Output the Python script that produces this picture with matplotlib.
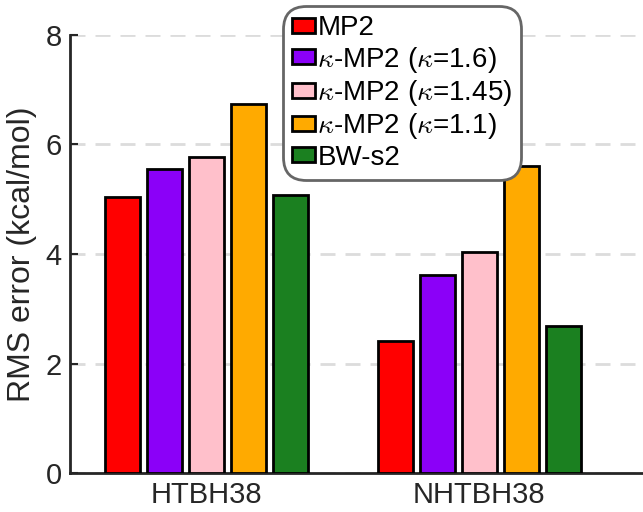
import matplotlib
matplotlib.use('Agg')
import matplotlib.pyplot as plt
import numpy as np

plt.rcParams['font.family'] = ['Liberation Sans', 'DejaVu Sans']
plt.rcParams['mathtext.fontset'] = 'cm'

groups = ['HTBH38', 'NHTBH38']
labels = ['MP2', r'$\kappa$-MP2 ($\kappa$=1.6)', r'$\kappa$-MP2 ($\kappa$=1.45)',
          r'$\kappa$-MP2 ($\kappa$=1.1)', 'BW-s2']
colors = ['#ff0000', '#8b00f8', '#ffc0cb', '#ffaa00', '#1b8020']
mp2 = [5.04, 2.41]
k16 = [5.55, 3.62]
k145 = [5.77, 4.04]
k11 = [6.74, 5.61]
bws2 = [5.07, 2.68]
series = [mp2, k16, k145, k11, bws2]

fig = plt.figure(figsize=(6.43, 5.12), dpi=100)
ax = fig.add_axes([0.109, 0.076, 0.891, 0.856])

x = np.arange(1, len(groups) + 1)
step = 0.154
width = 0.128
for i, (vals, lab, col) in enumerate(zip(series, labels, colors)):
    ax.bar(x + (i - 2) * step, vals, width, color=col, edgecolor='black',
           linewidth=2, label=lab, zorder=3)

ax.set_xlim(0.5, 2.6)
ax.set_ylim(0, 8)
ax.set_yticks([0, 2, 4, 6, 8])
ax.set_xticks(x)
ax.set_xticklabels(groups)
ax.yaxis.grid(True, linestyle=(0, (5.4, 3.6)), color='#dcdcdc', linewidth=2, zorder=0)
ax.set_ylabel('RMS error (kcal/mol)', fontsize=23, color='#262626', labelpad=6)

for s in ['top', 'right']:
    ax.spines[s].set_visible(False)
for s in ['left', 'bottom']:
    ax.spines[s].set_linewidth(2)
    ax.spines[s].set_color('#262626')
ax.tick_params(axis='y', direction='in', length=6, width=1.5, labelsize=21,
               colors='#262626', pad=6)
ax.tick_params(axis='x', direction='in', length=5, width=1.5, labelsize=21,
               colors='#262626', pad=6)

leg = ax.legend(loc='upper center', bbox_to_anchor=(0.58, 1.052), fontsize=20,
                handlelength=0.8, handleheight=0.45, handletextpad=0.1,
                labelspacing=0.12, borderpad=0.12, borderaxespad=0,
                fancybox=True, framealpha=1, edgecolor='#666666')
leg.get_frame().set_linewidth(2)
leg.get_frame().set_boxstyle('round', pad=0.2, rounding_size=0.8)
leg.set_zorder(5)

fig.savefig('out.png', dpi=100)
